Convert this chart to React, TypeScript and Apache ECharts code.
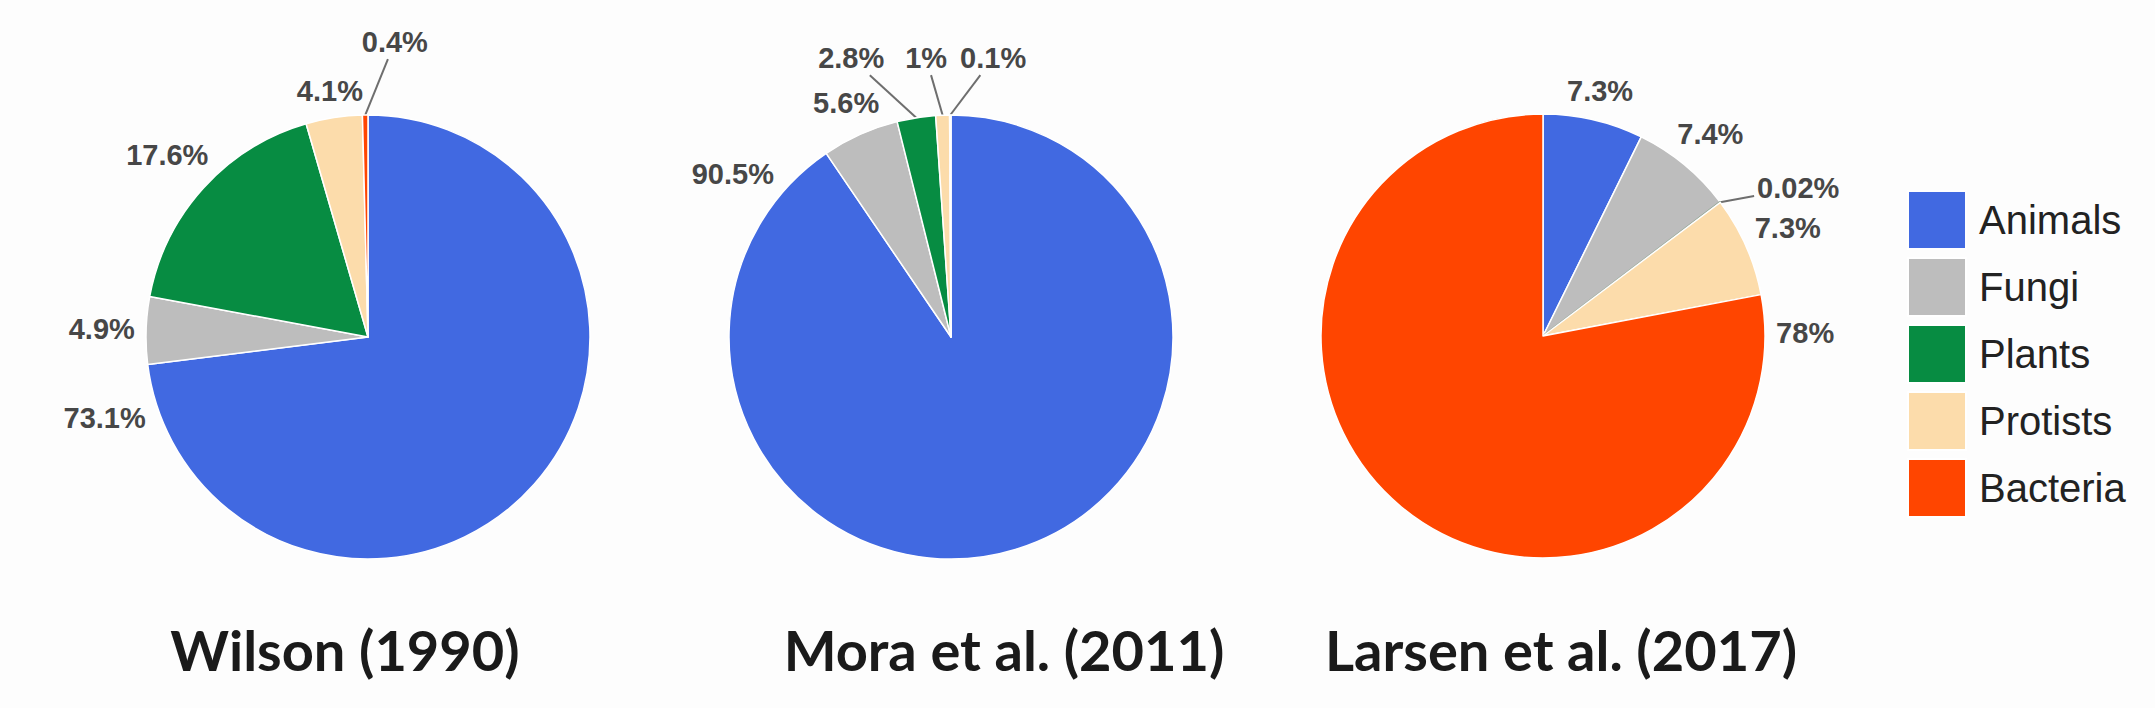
import React, { useEffect, useRef } from 'react';
import * as echarts from 'echarts';

// ---------------- data ----------------
const CATEGORIES = ['Animals', 'Fungi', 'Plants', 'Protists', 'Bacteria'];
const WILSON_1990 = [73.1, 4.9, 17.6, 4.1, 0.4];
const MORA_2011 = [90.5, 5.6, 2.8, 1, 0.1];
const LARSEN_2017 = [7.3, 7.4, 0.02, 7.3, 78];
const TITLES = ['Wilson (1990)', 'Mora et al. (2011)', 'Larsen et al. (2017)'];
const STUDIES = [WILSON_1990, MORA_2011, LARSEN_2017];

// ---------------- styles / layout ----------------
const COLORS = ['#4169e1', '#bdbdbd', '#078c42', '#fcdcab', '#ff4500'];
const W = 2155;
const H = 708;
const PIE_CENTERS: number[][] = [[368, 337], [951, 337], [1543, 336]];
const PIE_RADIUS = 222;
const TITLE_X = [345, 1004, 1561];
const TITLE_Y = 649;
const LABEL_FONT = 'Liberation Sans, Arial, sans-serif';
// labels that use a leader line: [angle clockwise from 12 o'clock, distance of label centre]
const LEADER_LABELS: Record<number, number[]>[] = [
  { 4: [5.2, 296] },
  { 2: [340.3, 296], 3: [354.9, 280], 4: [8.6, 282] },
  { 2: [59.9, 295] },
];
// how far the label of the largest slice sits from that slice's inner boundary (deg)
const DOMINANT_SHIFT = [-10, -19, 10];

function makeLabelLayout(i: number, values: number[]) {
  const total = values.reduce((a, b) => a + b, 0);
  const starts: number[] = [];
  let acc = 0;
  values.forEach((v) => {
    starts.push((acc / total) * 360);
    acc += v;
  });
  const ends = values.map((v, k) => starts[k] + (v / total) * 360);
  const dominant = values.indexOf(Math.max(...values));
  const [cx, cy] = PIE_CENTERS[i];
  const R = PIE_RADIUS;
  const pt = (deg: number, d: number) => {
    const a = (deg * Math.PI) / 180;
    return [cx + d * Math.sin(a), cy - d * Math.cos(a)];
  };
  return (params: any) => {
    const k = params.dataIndex;
    const w = params.labelRect ? params.labelRect.width : 60;
    const lead = LEADER_LABELS[i][k];
    if (lead) {
      const [lx, ly] = pt(lead[0], lead[1]);
      const mid = (starts[k] + ends[k]) / 2;
      const [ax, ay] = pt(mid, R);
      const hw = w / 2 + 3;
      const hh = 17;
      const dx = ax - lx;
      const dy = ay - ly;
      const t = Math.min(
        dx !== 0 ? hw / Math.abs(dx) : Infinity,
        dy !== 0 ? hh / Math.abs(dy) : Infinity
      );
      const ex = lx + dx * t;
      const ey = ly + dy * t;
      return {
        x: lx,
        y: ly,
        align: 'center',
        verticalAlign: 'middle',
        labelLinePoints: [[ax, ay], [ex, ey], [ex, ey]],
      };
    }
    let ang = (starts[k] + ends[k]) / 2;
    if (k === dominant) {
      ang = (starts[k] < 0.001 ? ends[k] : starts[k]) + DOMINANT_SHIFT[i];
    }
    const a = (ang * Math.PI) / 180;
    const ext = Math.abs(Math.sin(a)) * (w / 2) + Math.abs(Math.cos(a)) * 11;
    const [lx, ly] = pt(ang, R + 11 + ext);
    return { x: lx, y: ly, align: 'center', verticalAlign: 'middle' };
  };
}

export default function App() {
  const ref = useRef<HTMLDivElement>(null);

  useEffect(() => {
    document.body.style.margin = '0';
    if (!ref.current) return;
    const chart = echarts.init(ref.current, undefined, { renderer: 'svg' });

    const series = STUDIES.map((vals, i) => {
      const total = vals.reduce((a, b) => a + b, 0);
      return {
        type: 'pie',
        center: PIE_CENTERS[i],
        radius: PIE_RADIUS,
        startAngle: 90,
        clockwise: true,
        avoidLabelOverlap: false,
        minShowLabelAngle: 0,
        silent: true,
        label: {
          show: true,
          position: 'outside',
          formatter: '{c}%',
          fontFamily: LABEL_FONT,
          fontWeight: 'bold',
          fontSize: 29,
          color: '#474747',
        },
        labelLine: {
          show: true,
          length: 10,
          length2: 0,
          lineStyle: { color: '#6e6e6e', width: 2 },
        },
        labelLayout: makeLabelLayout(i, vals),
        itemStyle: { borderColor: '#ffffff', borderWidth: 1.5 },
        emphasis: { disabled: true },
        data: vals.map((v, k) => ({
          name: CATEGORIES[k],
          value: v,
          labelLine: { show: !!LEADER_LABELS[i][k] },
          ...(v / total < 0.001
            ? { itemStyle: { borderColor: '#7c9580', borderWidth: 2 } }
            : {}),
        })),
      };
    });

    chart.setOption({
      animation: false,
      backgroundColor: '#fdfdfd',
      color: COLORS,
      legend: {
        orient: 'vertical',
        left: 1907,
        top: 190,
        itemWidth: 58,
        itemHeight: 58,
        itemGap: 7,
        padding: 0,
        icon: 'rect',
        selectedMode: false,
        data: CATEGORIES,
        textStyle: {
          fontFamily: LABEL_FONT,
          fontSize: 40,
          color: '#222222',
          padding: [0, 0, 0, 8],
        },
      },
      graphic: TITLES.map((t, i) => ({
        type: 'text',
        x: TITLE_X[i],
        y: TITLE_Y,
        style: {
          text: t,
          fontFamily: 'Lato, sans-serif',
          fontWeight: 'bold',
          fontSize: 56,
          fill: '#1a1a1a',
          align: 'center',
          verticalAlign: 'middle',
        },
      })),
      series,
    } as any);

    return () => chart.dispose();
  }, []);

  return <div ref={ref} style={{ width: W, height: H, background: '#fdfdfd' }} />;
}
